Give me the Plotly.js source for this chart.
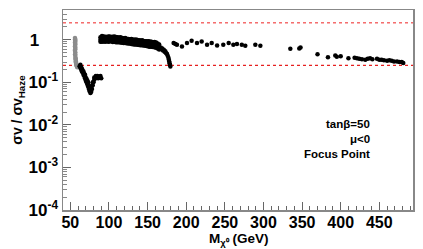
<!DOCTYPE html>
<html><head><meta charset="utf-8">
<script src="https://cdn.plot.ly/plotly-3.0.1.min.js"></script>
<style>html,body{margin:0;padding:0;background:#fff}#chart{width:423px;height:249px}</style>
</head><body><div id="chart"></div>
<script>
// Gray points (low-mass column)
const grayX = [56,56.3,56,56.5,56.2,56,56.5,56.2,56,56.5,56.3,56,56.5,56.2,56.4,56.6,56.8,57,57.2,57.5,57.8,58.2,58.6,59,57.4,56.9];
const grayY = [1.1,1.05,1.0,0.95,0.9,0.85,0.8,0.75,0.7,0.65,0.6,0.55,0.5,0.46,0.42,0.38,0.34,0.31,0.29,0.27,0.26,0.245,0.235,0.225,0.3,0.36];

// Black V-shaped branch
const vX = [62,63,64,65,66,67,68,69,70,71,72,73,74,75,76,77,78,79,80,81,82,84,86,88,90,
            63,65,67,69,71,73,75,77,79,81,83,64,66,68,70,72,74,76,85,87,89];
const vY = [0.24,0.22,0.2,0.18,0.17,0.15,0.14,0.125,0.11,0.1,0.09,0.08,0.07,0.062,0.056,0.06,0.07,0.085,0.1,0.115,0.125,0.13,0.125,0.13,0.125,
            0.26,0.21,0.18,0.15,0.12,0.1,0.08,0.075,0.1,0.13,0.14,0.23,0.19,0.16,0.13,0.11,0.085,0.065,0.14,0.135,0.14];

// Dense band
const bandX = [89,91,93,95,97,99,101,103,105,107,109,111,113,115,117,119,121,123,125,127,129,131,133,135,137,139,141,143,145,147,149,151,153,155,157,159,161,163,165];
const bandHi = [1.15,1.22,1.2,1.18,1.16,1.19,1.2,1.17,1.18,1.19,1.17,1.15,1.13,1.14,1.1,1.08,1.1,1.06,1.05,1.03,1.04,1.01,1.0,1.02,0.99,0.98,0.96,0.97,0.94,0.93,0.92,0.93,0.91,0.9,0.88,0.89,0.86,0.82,0.78];
const bandMid = [1.0,1.05,1.06,1.03,1.04,1.05,1.02,1.04,1.03,1.02,1.01,1.0,1.02,0.98,0.97,0.98,0.96,0.95,0.93,0.92,0.9,0.9,0.88,0.89,0.87,0.86,0.84,0.83,0.82,0.82,0.8,0.8,0.78,0.77,0.76,0.75,0.73,0.7,0.67];
const bandLo = [0.9,0.9,0.91,0.9,0.92,0.9,0.91,0.92,0.89,0.9,0.88,0.88,0.87,0.86,0.85,0.84,0.84,0.83,0.82,0.82,0.8,0.79,0.78,0.77,0.76,0.75,0.74,0.74,0.73,0.72,0.71,0.7,0.69,0.69,0.68,0.67,0.65,0.62,0.59];

// Drop near 175-180 GeV
const dropX = [167,168,169,170,171,172,173,174,175,176,177,177.5,178,178.5,179,179.5];
const dropY = [0.66,0.6,0.62,0.56,0.58,0.52,0.54,0.48,0.47,0.42,0.38,0.34,0.31,0.28,0.26,0.235];

// Sparse points at higher mass
const sparseX = [183.7,186,188,194.5,201,207,214,220,227,233,240,248,255,261,265.7,272,276.5,289.5,296,334.8,346.4,348,370,383.5,393,395,400,410,418,421,424,427.5,431.8,435,438,441,447,450,453,456,460,463,466,469,473,476,479,481];
const sparseY = [0.84,0.8,0.76,0.7,0.84,0.95,0.84,0.91,0.76,0.84,0.73,0.76,0.84,0.76,0.8,0.76,0.72,0.76,0.72,0.615,0.62,0.66,0.46,0.39,0.43,0.4,0.41,0.37,0.38,0.37,0.36,0.35,0.34,0.36,0.37,0.35,0.36,0.34,0.34,0.33,0.32,0.33,0.32,0.31,0.31,0.3,0.3,0.284];

// Reference lines
const xRange = [40.5, 493.6];
const refUpper = 2.5;
const refLower = 0.25;

const yTickVals = [1e-4,1e-3,1e-2,1e-1,1];
const yTickText = ['10<sup>-4</sup>','10<sup>-3</sup>','10<sup>-2</sup>','10<sup>-1</sup>','1\u00a0\u00a0\u00a0\u00a0'];

const blackX = [].concat(vX, bandX, bandX, bandX, dropX, sparseX);
const blackY = [].concat(vY, bandHi, bandMid, bandLo, dropY, sparseY);

const font = {family:'Liberation Sans, Arial, sans-serif', color:'#000'};
const traces = [
  {x:xRange, y:[refUpper,refUpper], mode:'lines', line:{color:'#ee2222', width:1, dash:'dot'}, hoverinfo:'skip'},
  {x:xRange, y:[refLower,refLower], mode:'lines', line:{color:'#e62020', width:1.1, dash:'dot'}, hoverinfo:'skip'},
  {x:grayX, y:grayY, mode:'markers', marker:{color:'#8c8c8c', size:4.5}},
  {x:blackX, y:blackY, mode:'markers', marker:{color:'#000', size:4.5}}
];

const layout = {
  width:423, height:249,
  margin:{l:63, r:10, t:10, b:39},
  paper_bgcolor:'#fff', plot_bgcolor:'#fff',
  showlegend:false,
  xaxis:{
    range:xRange, tick0:50, dtick:50, ticks:'inside', ticklen:8, tickcolor:'#666',
    showgrid:false, zeroline:false, showline:true, mirror:true, linecolor:'#888', linewidth:1.5,
    tickfont:Object.assign({size:16, weight:'bold'}, font), ticklabelstandoff:-3,
    minor:{ticks:'inside', dtick:10, ticklen:4, tickcolor:'#666', showgrid:false}
  },
  yaxis:{
    type:'log', range:[-4, 0.7], tickvals:yTickVals, ticktext:yTickText,
    ticks:'inside', ticklen:8, tickcolor:'#666',
    showgrid:false, zeroline:false, showline:true, mirror:true, linecolor:'#888', linewidth:1.5,
    tickfont:Object.assign({size:17, weight:'bold'}, font),
    minor:{ticks:'inside', dtick:'D1', ticklen:4, tickcolor:'#888', showgrid:false},
    title:{text:'σv / σv<sub>Haze</sub>', font:Object.assign({size:14, weight:'bold'}, font), standoff:2}
  },
  annotations:[
    {xref:'paper', yref:'paper', x:0.5, y:-0.145, yanchor:'middle', text:'M<sub>χ⁰</sub> (GeV)', showarrow:false, font:Object.assign({size:13.5, weight:'bold'}, font)},
    {xref:'paper', yref:'paper', x:0.884, y:0.43, yanchor:'middle', text:'tanβ=50', showarrow:false, font:Object.assign({size:11.5, weight:'bold'}, font)},
    {xref:'paper', yref:'paper', x:0.884, y:0.355, yanchor:'middle', text:'μ&lt;0', showarrow:false, font:Object.assign({size:11.5, weight:'bold'}, font)},
    {xref:'paper', yref:'paper', x:0.884, y:0.28, yanchor:'middle', text:'Focus Point', showarrow:false, font:Object.assign({size:11.5, weight:'bold'}, font)}
  ]
};
Plotly.newPlot('chart', traces, layout, {staticPlot:true, displayModeBar:false});
</script></body></html>
